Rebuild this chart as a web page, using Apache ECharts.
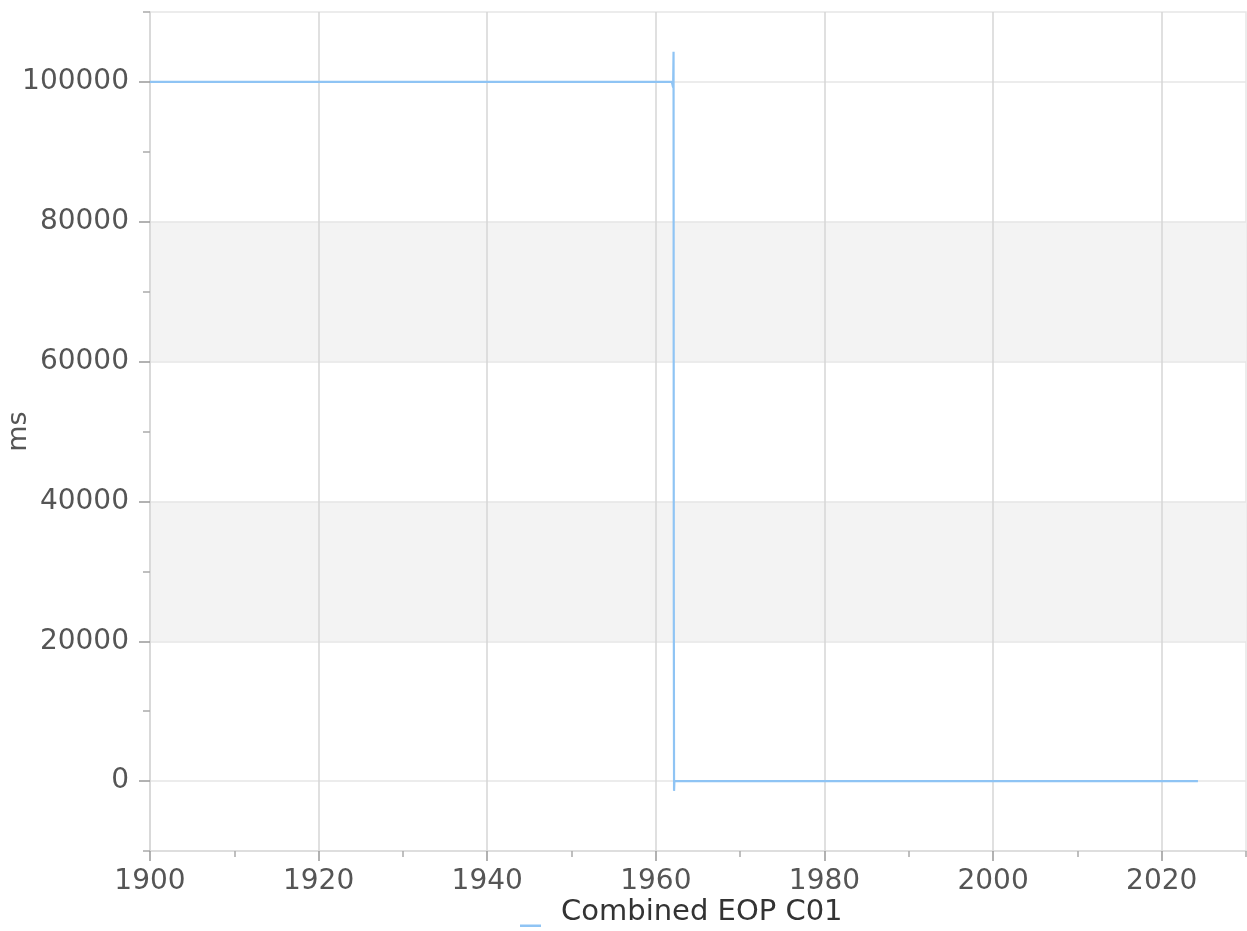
<!DOCTYPE html>
<html><head><meta charset="utf-8">
<script src="https://cdn.jsdelivr.net/npm/echarts@6/dist/echarts.min.js"></script>
<style>html,body{margin:0;padding:0;background:#fff}#c{width:1247px;height:931px}</style>
</head><body><div id="c"></div>
<script>
const seriesName = 'Combined EOP C01';
const years  = [1900,   1961.9, 1962.05, 1962.1, 1962.13, 1962.16, 1962.2, 2024.3];
const values = [100000, 100000, 99200,   104300, 25600,   -1400,   0,      0];
const yLabelTicks = [0, 20000, 40000, 60000, 80000, 100000];
const yMinorTicks = [-10000, 10000, 30000, 50000, 70000, 90000, 110000];
const xLabelTicks = [1900, 1920, 1940, 1960, 1980, 2000, 2020];
const xMinorTicks = [1910, 1930, 1950, 1970, 1990, 2010, 2030];

const FONT = 'DejaVu Sans';
const chart = echarts.init(document.getElementById('c'));
const data = years.map((y, i) => [y, values[i]]);
chart.setOption({
  animation: false,
  backgroundColor: '#fff',
  grid: { left: 150, right: 1, top: 12, bottom: 80, containLabel: false, outerBoundsMode: 'none',
          show: true, borderColor: '#e6e6e6', borderWidth: 1.5, backgroundColor: 'transparent' },
  legend: {
    left: 515, bottom: -1, itemWidth: 36, itemHeight: 30, itemGap: 8,
    icon: 'path://M0,0 M36,0 M0,27.5 L21,27.5 L21,30 L0,30 Z',
    textStyle: { fontFamily: FONT, fontSize: 29, color: '#333' },
    data: [seriesName]
  },
  xAxis: [{
    type: 'value', min: 1900, max: 2030,
    axisLine: { onZero: false, lineStyle: { color: '#d9d9d9', width: 1.5 } },
    axisTick: { customValues: xLabelTicks, length: 10, lineStyle: { color: '#999', width: 1.5 } },
    axisLabel: { customValues: xLabelTicks, formatter: v => String(v), fontFamily: FONT, fontSize: 28, color: '#555', margin: 17 },
    splitLine: { show: true, lineStyle: { color: '#d6d6d6', width: 1.5 } }
  }, {
    type: 'value', min: 1900, max: 2030, position: 'bottom',
    axisLine: { show: false, onZero: false },
    axisTick: { customValues: xMinorTicks, length: 6, lineStyle: { color: '#aaa', width: 1.5 } },
    axisLabel: { show: false }, splitLine: { show: false }
  }],
  yAxis: [{
    type: 'value', min: -10000, max: 110000,
    name: 'ms', nameLocation: 'middle', nameGap: 118, nameMoveOverlap: false,
    nameTextStyle: { fontFamily: FONT, fontSize: 27, color: '#555' },
    axisLine: { show: true, onZero: false, lineStyle: { color: '#d9d9d9', width: 1.5 } },
    axisTick: { show: true, customValues: yLabelTicks, length: 11, lineStyle: { color: '#999', width: 1.5 } },
    axisLabel: { customValues: yLabelTicks, formatter: v => String(v), fontFamily: FONT, fontSize: 28, color: '#555', margin: 21 },
    splitLine: { show: true, lineStyle: { color: '#e6e6e6', width: 1.5 } },
    splitArea: { show: true, areaStyle: { color: ['rgba(0,0,0,0)', '#f3f3f3'] } }
  }, {
    type: 'value', min: -10000, max: 110000, position: 'left',
    axisLine: { show: false, onZero: false },
    axisTick: { show: true, customValues: yMinorTicks, length: 7, lineStyle: { color: '#aaa', width: 1.5 } },
    axisLabel: { show: false }, splitLine: { show: false }
  }],
  series: [{
    name: seriesName, type: 'line', data: data, showSymbol: false,
    color: '#8fc4f4', lineStyle: { width: 2.2, color: '#8fc4f4' }
  }]
});
</script></body></html>
